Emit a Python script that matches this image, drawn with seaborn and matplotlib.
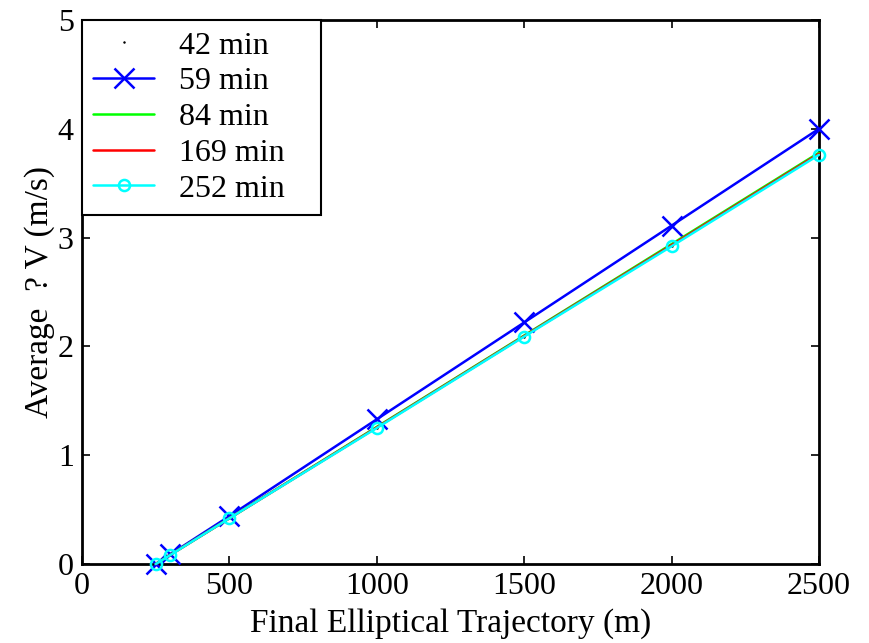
import matplotlib
matplotlib.use("Agg")
import matplotlib.pyplot as plt
import seaborn as sns
import pandas as pd

# trajectory sizes (m) and average delta-V (m/s) per transfer time
traj = [250, 300, 500, 1000, 1500, 2000, 2500]
dv_42 = [0.0, 0.083, 0.42, 1.25, 2.09, 2.92, 3.76]
dv_59 = [0.0, 0.09, 0.44, 1.33, 2.22, 3.11, 4.0]
dv_84 = [0.0, 0.085, 0.42, 1.26, 2.10, 2.94, 3.78]
dv_169 = [0.0, 0.084, 0.42, 1.255, 2.095, 2.93, 3.77]
dv_252 = [0.0, 0.083, 0.42, 1.25, 2.09, 2.92, 3.76]
labels = ["42 min", "59 min", "84 min", "169 min", "252 min"]

sns.set_style("ticks")
plt.rcParams["font.family"] = ["Liberation Serif", "DejaVu Serif"]
plt.rcParams["xtick.direction"] = "in"
plt.rcParams["ytick.direction"] = "in"
plt.rcParams["text.color"] = "black"
plt.rcParams["axes.labelcolor"] = "black"
plt.rcParams["xtick.color"] = "black"
plt.rcParams["ytick.color"] = "black"

fig = plt.figure(figsize=(8.69, 6.43), dpi=100)
ax = fig.add_axes([0.0944, 0.1229, 0.848, 0.846])

series = [dv_42, dv_59, dv_84, dv_169, dv_252]
styles = [
    dict(color="black", marker=".", linestyle="none", markersize=2,
         markeredgecolor="black"),
    dict(color="#0000ff", marker="x", markersize=14, markeredgewidth=1.8,
         markeredgecolor="#0000ff"),
    dict(color="#00ff00", marker=None),
    dict(color="#ff0000", marker=None),
    dict(color="#00ffff", marker="o", markersize=8, markerfacecolor="none",
         markeredgewidth=1.8, markeredgecolor="#00ffff"),
]
for vals, lab, st in zip(series, labels, styles):
    df = pd.DataFrame({"x": traj, "y": vals})
    sns.lineplot(data=df, x="x", y="y", ax=ax, label=lab, linewidth=1.8,
                 clip_on=False, zorder=3, **st)

ax.set_xlim(0, 2500)
ax.set_ylim(0, 5)
ax.set_xticks([0, 500, 1000, 1500, 2000, 2500])
ax.set_yticks([0, 1, 2, 3, 4, 5])
ax.tick_params(labelsize=23, length=6, width=1.2, top=True, right=True, pad=6)
for s in ax.spines.values():
    s.set_linewidth(2)
    s.set_color("black")

ax.set_xlabel("Final Elliptical Trajectory (m)", fontsize=24, labelpad=5)
ax.set_ylabel("Average  ? V (m/s)", fontsize=24, labelpad=2)

leg = ax.legend(loc="upper left", bbox_to_anchor=(0, 0, 0.324, 1),
                mode="expand", fontsize=23, frameon=True, fancybox=False,
                edgecolor="black", framealpha=1, handlelength=1.9,
                labelspacing=0.2, borderaxespad=0, borderpad=0.35,
                handletextpad=0.8)
leg.get_frame().set_linewidth(1.5)
leg.set_zorder(5)

fig.savefig("out.png", dpi=100)
